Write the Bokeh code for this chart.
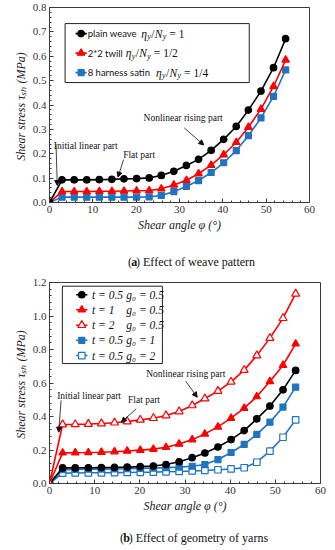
from bokeh.plotting import figure
from bokeh.models import Range1d, Arrow, NormalHead, FixedTicker, NumeralTickFormatter
from bokeh.layouts import column
from bokeh.embed import file_html
from bokeh.resources import INLINE
from bokeh.core.properties import value

# ---------------- data ----------------
angle = [0, 2.9, 5.7, 8.6, 11.5, 14.4, 17.2, 20.1, 23.0, 25.8, 28.7, 31.6,
         34.4, 37.3, 40.2, 43.1, 45.9, 48.8, 51.7, 54.5]

# (a) effect of weave pattern
plain_weave = [0, 0.093, 0.093, 0.093, 0.094, 0.095, 0.097, 0.098, 0.101, 0.111,
               0.128, 0.152, 0.177, 0.214, 0.259, 0.312, 0.379, 0.457, 0.553, 0.672]
twill_2x2 = [0, 0.045, 0.045, 0.045, 0.046, 0.046, 0.047, 0.048, 0.049, 0.056,
             0.072, 0.091, 0.118, 0.153, 0.196, 0.247, 0.309, 0.383, 0.476, 0.585]
satin_8h = [0, 0.022, 0.022, 0.022, 0.022, 0.022, 0.022, 0.022, 0.023, 0.029,
            0.045, 0.066, 0.090, 0.123, 0.163, 0.213, 0.274, 0.347, 0.435, 0.544]
weave_names = ["plain weave", "2*2 twill", "8 harness satin"]
weave_ratio = ["1", "1/2", "1/4"]

# (b) effect of geometry of yarns
t05_g05 = [0, 0.093, 0.093, 0.094, 0.095, 0.096, 0.098, 0.101, 0.104, 0.113,
           0.130, 0.154, 0.182, 0.218, 0.262, 0.316, 0.386, 0.462, 0.559, 0.675]
t1_g05 = [0, 0.183, 0.184, 0.185, 0.187, 0.190, 0.194, 0.199, 0.205, 0.216,
          0.236, 0.262, 0.296, 0.338, 0.390, 0.450, 0.519, 0.609, 0.706, 0.834]
t2_g05 = [0, 0.352, 0.353, 0.355, 0.358, 0.363, 0.370, 0.380, 0.390, 0.406,
          0.430, 0.466, 0.507, 0.552, 0.607, 0.677, 0.764, 0.868, 0.987, 1.133]
t05_g1 = [0, 0.083, 0.084, 0.085, 0.086, 0.087, 0.088, 0.090, 0.092, 0.095,
          0.098, 0.103, 0.113, 0.143, 0.185, 0.233, 0.293, 0.366, 0.456, 0.575]
t05_g2 = [0, 0.062, 0.063, 0.064, 0.064, 0.065, 0.066, 0.067, 0.068, 0.070,
          0.072, 0.075, 0.078, 0.082, 0.087, 0.094, 0.127, 0.193, 0.276, 0.380]
geo_t = ["0.5", "1", "2", "0.5", "0.5"]
geo_g = ["0.5", "0.5", "0.5", "1", "2"]

x_ticks = [0, 10, 20, 30, 40, 50, 60]
y_ticks_a = [0.0, 0.1, 0.2, 0.3, 0.4, 0.5, 0.6, 0.7, 0.8]
y_ticks_b = [0.0, 0.2, 0.4, 0.6, 0.8, 1.0, 1.2]

BLACK = "#000000"
RED = "#ff0000"
BLUE = "#1f74c2"
AX = "#3a3a3a"
SERIF = "Liberation Serif"


def minor(ticks, n=5):
    out = []
    for a, b in zip(ticks[:-1], ticks[1:]):
        for k in range(1, n):
            out.append(a + (b - a) * k / n)
    return out


def style(p, yt):
    p.xgrid.visible = False
    p.ygrid.visible = False
    p.outline_line_color = AX
    p.outline_line_width = 1
    p.xaxis.ticker = FixedTicker(ticks=x_ticks, minor_ticks=minor(x_ticks))
    p.yaxis.ticker = FixedTicker(ticks=yt, minor_ticks=minor(yt))
    p.yaxis.formatter = NumeralTickFormatter(format="0.0")
    for ax in (p.xaxis, p.yaxis):
        ax.axis_line_color = AX
        ax.major_tick_line_color = AX
        ax.minor_tick_line_color = AX
        ax.major_tick_in = 4
        ax.major_tick_out = 0
        ax.minor_tick_in = 2
        ax.minor_tick_out = 0
        ax.major_label_text_font = SERIF
        ax.major_label_text_font_size = "11px"
        ax.major_label_text_color = "#333333"
        ax.major_label_standoff = 3
        ax.axis_label_text_font = SERIF
        ax.axis_label_text_font_style = "italic"
        ax.axis_label_text_font_size = "12px"
        ax.axis_label_text_color = "#222222"
        ax.axis_label_standoff = 2
    p.xaxis.axis_label = "Shear angle φ (°)"
    p.yaxis.axis_label = "Shear stress  τₛₕ (MPa)"


def series(p, y, color, marker, filled, size):
    p.line(angle, y, line_color=color, line_width=1.6)
    p.scatter(angle, y, marker=marker, size=size, line_color=color,
              fill_color=color if filled else "white", line_width=1.2)


def note(p, x, y, txt, xs, ys, xe, ye):
    p.text([x], [y], text=[txt], text_font=value(SERIF), text_font_size="9.5px",
           text_baseline="middle", text_align="left", text_color="#111111")
    p.add_layout(Arrow(end=NormalHead(size=5, fill_color="#111111", line_color="#111111"),
                       x_start=xs, y_start=ys, x_end=xe, y_end=ye,
                       line_color="#111111", line_width=0.8))


def legend_marker(p, x0, x1, y, color, marker, filled, size):
    p.segment([x0], [y], [x1], [y], line_color=color, line_width=1.6)
    p.scatter([(x0 + x1) / 2], [y], marker=marker, size=size, line_color=color,
              fill_color=color if filled else "white", line_width=1.2)


def eta_ratio(p, x, y, rhs):
    # eta_y / N_y = rhs, built from pieces
    p.text([x, x], [y, y], text=["η", "N"], x_offset=[0, 13.5], y_offset=[0, 0],
           text_font=value(SERIF), text_font_style="italic", text_font_size="11.5px",
           text_baseline="middle", text_align="left", text_color="#111111")
    p.text([x, x], [y, y], text=["y", "y"], x_offset=[6, 21.5], y_offset=[3, 3],
           text_font=value(SERIF), text_font_style="italic", text_font_size="8px",
           text_baseline="middle", text_align="left", text_color="#111111")
    p.text([x, x], [y, y], text=["/", "= " + rhs], x_offset=[10, 28], y_offset=[0, 0],
           text_font=value(SERIF), text_font_size="11.5px",
           text_baseline="middle", text_align="left", text_color="#111111")


def caption_fig(width, height, x0, ymid, letter, rest, letter_w):
    c = figure(width=width, height=height, x_range=Range1d(0, width), y_range=Range1d(height, 0),
               output_backend="svg", toolbar_location=None,
               x_axis_location=None, y_axis_location=None,
               min_border_left=0, min_border_right=0, min_border_top=0, min_border_bottom=0)
    c.xgrid.visible = False
    c.ygrid.visible = False
    c.outline_line_color = None
    common = dict(text_font=value(SERIF), text_font_size="12px", text_baseline="middle",
                  text_align="left", text_color="#111111")
    c.text([x0, x0 + 4.0 + letter_w], [ymid, ymid], text=["(", ") " + rest], **common)
    c.text([x0 + 4.0], [ymid], text=[letter], text_font_style="bold", **common)
    return c


# ---------------- (a) ----------------
pa = figure(width=320, height=240, x_range=Range1d(0, 60), y_range=Range1d(0, 0.8),
            output_backend="svg", toolbar_location=None,
            min_border_left=41, min_border_right=11, min_border_top=7, min_border_bottom=38)
style(pa, y_ticks_a)

# legend box
pa.quad(left=[3.6], right=[46.1], bottom=[0.492], top=[0.734],
        fill_color="white", line_color="#222222", line_width=1)

series(pa, satin_8h, BLUE, "square", True, 6)
series(pa, twill_2x2, RED, "triangle", True, 7.5)
series(pa, plain_weave, BLACK, "circle", True, 6.5)

rows_a = [0.693, 0.613, 0.533]
specs_a = [(BLACK, "circle", 6.5), (RED, "triangle", 7.5), (BLUE, "square", 6)]
eta_x = [21.2, 17.6, 24.6]
for i in range(3):
    c, m, s = specs_a[i]
    legend_marker(pa, 6.0, 8.6, rows_a[i], c, m, True, s)
    pa.text([8.8], [rows_a[i]], text=[weave_names[i]], text_font=value("Lato"),
            text_font_size="9.5px", text_baseline="middle", text_align="left",
            text_color="#111111")
    eta_ratio(pa, eta_x[i], rows_a[i], weave_ratio[i])

note(pa, 1.0, 0.232, "Initial linear part", 1.5, 0.24, 1.8, 0.07)
note(pa, 17.0, 0.193, "Flat part", 17.1, 0.176, 15.8, 0.104)
note(pa, 21.7, 0.345, "Nonlinear rising part", 31.1, 0.306, 35.6, 0.236)

cap_a = caption_fig(320, 36, 96.5, 21, "a", "Effect of weave pattern", 6.0)

# ---------------- (b) ----------------
pb = figure(width=331, height=245, x_range=Range1d(0, 60), y_range=Range1d(0, 1.2),
            output_backend="svg", toolbar_location=None,
            min_border_left=49, min_border_right=8, min_border_top=6, min_border_bottom=38)
style(pb, y_ticks_b)

pb.quad(left=[2.85], right=[25.0], bottom=[0.716], top=[1.178],
        fill_color="white", line_color="#222222", line_width=1)

series(pb, t05_g2, BLUE, "square", False, 6.5)
series(pb, t05_g1, BLUE, "square", True, 6)
series(pb, t05_g05, BLACK, "circle", True, 6.5)
series(pb, t1_g05, RED, "triangle", True, 7.5)
series(pb, t2_g05, RED, "triangle", False, 8)

rows_b = [1.127, 1.037, 0.945, 0.855, 0.764]
specs_b = [(BLACK, "circle", True, 6.5), (RED, "triangle", True, 7.5),
           (RED, "triangle", False, 8), (BLUE, "square", True, 6),
           (BLUE, "square", False, 6.5)]
for i in range(5):
    c, m, f, s = specs_b[i]
    legend_marker(pb, 5.9, 8.4, rows_b[i], c, m, f, s)
    pb.text([9.4, 17.0], [rows_b[i], rows_b[i]],
            text=["t = " + geo_t[i], "g₀ = " + geo_g[i]],
            text_font=value(SERIF), text_font_style="italic", text_font_size="11.5px",
            text_baseline="middle", text_align="left", text_color="#111111")

note(pb, 1.7, 0.525, "Initial linear part", 2.56, 0.496, 2.04, 0.306)
note(pb, 17.4, 0.50, "Flat part", 19.2, 0.446, 15.9, 0.366)
note(pb, 21.4, 0.651, "Nonlinear rising part", 30.15, 0.611, 32.7, 0.515)

cap_b = caption_fig(331, 29, 86.0, 16, "b", "Effect of geometry of yarns", 6.7)

layout = column(pa, cap_a, pb, cap_b, spacing=0)
open("out.html", "w").write(file_html(layout, INLINE))
